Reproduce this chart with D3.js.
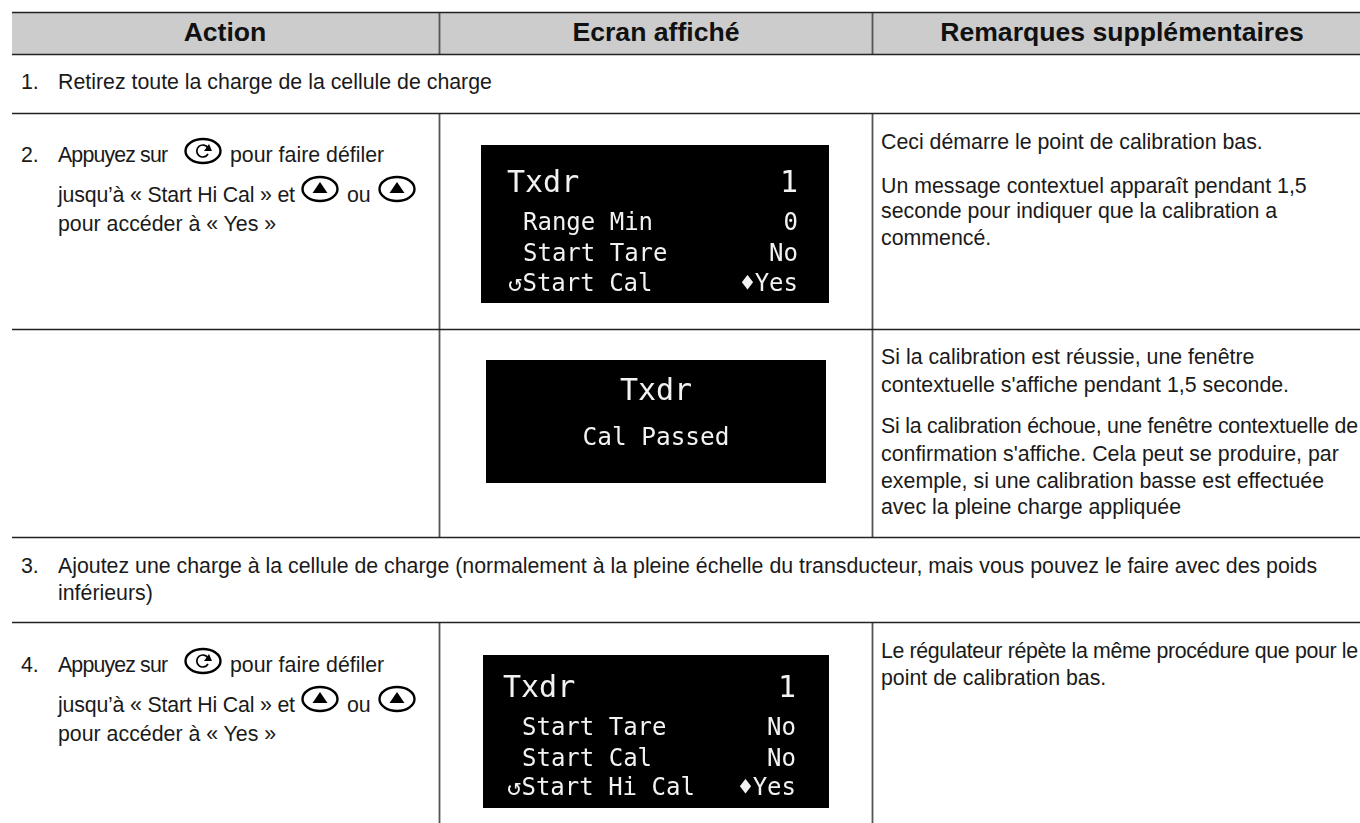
<!DOCTYPE html>
<html>
<head>
<meta charset="utf-8">
<script src="https://cdn.jsdelivr.net/npm/d3@7"></script>
<style>
  html, body { margin: 0; background: #fff; overflow: hidden; }
  svg { display: block; }
</style>
</head>
<body>
<script>
const w = 1360;
const h = 823;

const headers = ['Action', 'Ecran affiché', 'Remarques supplémentaires'];

const fullRows = [
  ['1.', 'Retirez toute la charge de la cellule de charge'],
  ['3.', 'Ajoutez une charge à la cellule de charge (normalement à la pleine échelle du transducteur, mais vous pouvez le faire avec des poids'],
  ['', 'inférieurs)']
];

const stepLines = ['Appuyez sur', 'pour faire défiler', 'jusqu’à « Start Hi Cal » et', 'ou', 'pour accéder à « Yes »'];

const remarks = [
  'Ceci démarre le point de calibration bas.',
  'Un message contextuel apparaît pendant 1,5',
  'seconde pour indiquer que la calibration a',
  'commencé.',
  'Si la calibration est réussie, une fenêtre',
  'contextuelle s\'affiche pendant 1,5 seconde.',
  'Si la calibration échoue, une fenêtre contextuelle de',
  'confirmation s\'affiche. Cela peut se produire, par',
  'exemple, si une calibration basse est effectuée',
  'avec la pleine charge appliquée',
  'Le régulateur répète la même procédure que pour le',
  'point de calibration bas.'
];

const screen1 = [['Txdr', '1'], ['Range Min', '0'], ['Start Tare', 'No'], ['↺Start Cal', '♦Yes']];
const screen2 = ['Txdr', 'Cal Passed'];
const screen3 = [['Txdr', '1'], ['Start Tare', 'No'], ['Start Cal', 'No'], ['↺Start Hi Cal', '♦Yes']];

// layout
const colX = d3.scaleOrdinal().domain(['left', 'mid', 'right']).range([12, 439, 872]);
const lineY = d3.scaleOrdinal()
  .domain(['top', 'head', 'r1', 'r2', 'r3', 'r4'])
  .range([12, 54, 113, 329, 537, 622]);

// some lines are set tighter in the original
const fitWidth = {
  'Appuyez sur': 110,
  'jusqu’à « Start Hi Cal » et': 237,
  'Si la calibration échoue, une fenêtre contextuelle de': 477,
  'Le régulateur répète la même procédure que pour le': 477
};

const svg = d3.select('body')
  .append('svg')
  .attr('width', w)
  .attr('height', h);

const font = '"Liberation Sans", Arial, sans-serif';
const lcdFont = '"DejaVu Sans Mono", monospace';

svg.append('defs').append('filter').attr('id', 'soft')
  .append('feGaussianBlur').attr('stdDeviation', 0.5);

// header band
svg.append('rect')
  .attr('x', colX('left'))
  .attr('y', lineY('top'))
  .attr('width', w - colX('left'))
  .attr('height', lineY('head') - lineY('top'))
  .attr('fill', '#cccccc');

// vertical rules
const vRules = [
  ['mid', 12, 54], ['right', 12, 54],
  ['mid', 113, 537], ['right', 113, 537],
  ['mid', 622, h], ['right', 622, h]
];
svg.selectAll('line.v')
  .data(vRules)
  .enter()
  .append('line')
  .attr('class', 'v')
  .attr('x1', d => colX(d[0]) + 0.5)
  .attr('x2', d => colX(d[0]) + 0.5)
  .attr('y1', d => d[1])
  .attr('y2', d => d[2])
  .attr('stroke', '#555')
  .attr('stroke-width', 1.8);

// horizontal rules
svg.selectAll('line.h')
  .data(lineY.domain())
  .enter()
  .append('line')
  .attr('class', 'h')
  .attr('x1', colX('left'))
  .attr('x2', w)
  .attr('y1', d => lineY(d) + 0.5)
  .attr('y2', d => lineY(d) + 0.5)
  .attr('stroke', '#222')
  .attr('stroke-width', 1.3);

// header text
const headCenters = [225, 656, 1122];
svg.selectAll('text.head')
  .data(headers)
  .enter()
  .append('text')
  .attr('class', 'head')
  .text(d => d)
  .attr('x', (d, i) => headCenters[i])
  .attr('y', 41)
  .attr('text-anchor', 'middle')
  .style('font-family', font)
  .style('font-weight', 'bold')
  .style('font-size', '26.6px')
  .style('fill', '#111');

function body(x, y, t) {
  const el = svg.append('text')
    .text(t)
    .attr('x', x)
    .attr('y', y)
    .style('font-family', font)
    .style('font-size', '21.33px')
    .style('fill', '#1a1a1a');
  if (fitWidth[t]) el.attr('textLength', fitWidth[t]);
  return el;
}

// full width rows
const fullY = [89, 573, 600];
fullRows.forEach((r, i) => {
  if (r[0]) body(21, fullY[i], r[0]);
  body(58, fullY[i], r[1]);
});

// button icons
function rotIcon(cx, cy) {
  const g = svg.append('g').attr('transform', `translate(${cx},${cy})`);
  g.append('ellipse').attr('rx', 17.5).attr('ry', 12)
    .attr('fill', 'none').attr('stroke', '#000').attr('stroke-width', 2.4);
  g.append('path').attr('d', 'M5,-3 A6,6 0 1 0 5,3')
    .attr('fill', 'none').attr('stroke', '#000').attr('stroke-width', 1.7);
  g.append('path').attr('d', 'M1,0 L9,0 L6,-7 Z').attr('fill', '#000');
}
function upIcon(cx, cy) {
  const g = svg.append('g').attr('transform', `translate(${cx},${cy})`);
  g.append('ellipse').attr('rx', 17.5).attr('ry', 12)
    .attr('fill', 'none').attr('stroke', '#000').attr('stroke-width', 2.4);
  g.append('path').attr('d', 'M-7.5,4 L7.5,4 L0,-7 Z').attr('fill', '#000');
}

function stepBlock(label, top) {
  body(21, top, label);
  body(58, top, stepLines[0]);
  rotIcon(203, top - 11);
  body(230, top, stepLines[1]);
  body(58, top + 40, stepLines[2]);
  upIcon(320, top + 27);
  body(347, top + 40, stepLines[3]);
  upIcon(397, top + 27);
  body(58, top + 69, stepLines[4]);
}
stepBlock('2.', 162);
stepBlock('4.', 672);

// remarks
const remarkY = [149, 193, 218, 245, 364, 392, 433, 461, 488, 514, 658, 685];
remarks.forEach((t, i) => body(881, remarkY[i], t));

// LCD screens
function lcdText(g, t, x, y, size, anchor) {
  g.append('text').text(t)
    .attr('x', x)
    .attr('y', y)
    .attr('text-anchor', anchor)
    .attr('filter', 'url(#soft)')
    .style('font-family', lcdFont)
    .style('font-size', size + 'px')
    .style('fill', '#f2f2f2');
}

function lcd(box, rows, rowY, titleX, rowX, rightX) {
  const g = svg.append('g');
  g.append('rect').attr('x', box[0]).attr('y', box[1])
    .attr('width', box[2] - box[0]).attr('height', box[3] - box[1]).attr('fill', '#000');
  rows.forEach((r, i) => {
    const size = i === 0 ? 30 : 24;
    const left = i === 0 ? titleX : (r[0][0] === '↺' ? rowX - 15 : rowX);
    lcdText(g, r[0], left, rowY[i], size, 'start');
    lcdText(g, r[1], rightX, rowY[i], size, 'end');
  });
}
lcd([481, 145, 829, 303], screen1, [192, 230, 261, 291], 507, 523, 798);
lcd([483, 655, 829, 808], screen3, [697, 735, 766, 795], 503, 522, 796);

const g2 = svg.append('g');
g2.append('rect').attr('x', 486).attr('y', 360).attr('width', 340).attr('height', 123).attr('fill', '#000');
screen2.forEach((t, i) => lcdText(g2, t, 656, [400, 445][i], i === 0 ? 30 : 24.4, 'middle'));
</script>
</body>
</html>
